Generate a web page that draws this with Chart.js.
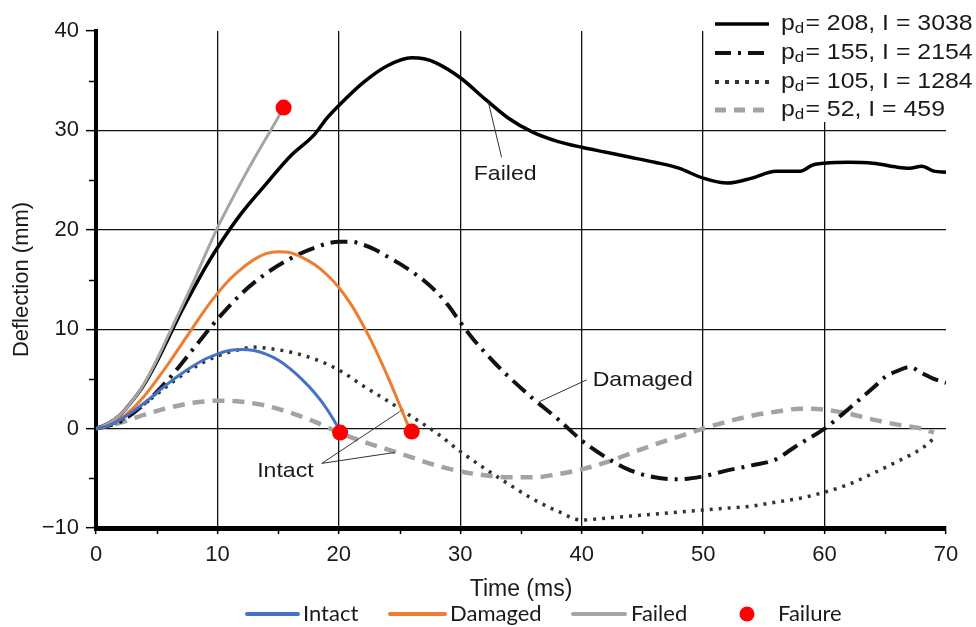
<!DOCTYPE html>
<html><head><meta charset="utf-8">
<script src="https://cdn.jsdelivr.net/npm/chart.js@4.4.0/dist/chart.umd.min.js"></script>
<style>html,body{margin:0;padding:0;background:#fff}#c{display:block}</style>
</head><body>
<canvas id="c" width="976" height="627"></canvas>
<script>
// ---- tick values ----
const timeTicks = [0, 10, 20, 30, 40, 50, 60, 70];
const deflTicks = [-10, 0, 10, 20, 30, 40];

// ---- legend labels ----
const pdValues = ['208', '155', '105', '52'];
const impulseValues = ['3038', '2154', '1284', '459'];
const modelNames = ['Intact', 'Damaged', 'Failed', 'Failure'];

// ---- experimental series (time ms, deflection mm) ----
const t208 = [0,1,2,3,4,5,6,7,8,9,10,12,14,16,18,19,20,22,24,26,27,28,30,32,34,36,38,40,42,44,46,48,50,52,54,56,58,59,60,62,64,66,67,68,69,70];
const v208 = [0,0.5,1.4,2.8,4.5,6.7,9.2,11.7,14.0,16.2,18.2,21.7,24.6,27.4,29.6,31.2,32.5,34.8,36.5,37.3,37.2,36.8,35.3,33.2,31.2,29.8,28.9,28.3,27.8,27.3,26.8,26.2,25.2,24.7,25.2,25.9,25.9,26.5,26.7,26.8,26.7,26.3,26.2,26.4,25.9,25.8];

const t155 = [0,2,4,6,8,10,12,14,16,18,20,21,22,23,24,25,26,27,28,29,30,31,32,33,34,36,38,40,42,44,46,48,50,52,54,56,57,58,60,62,64,65,66,67,68,69,70];
const v155 = [0,0.7,2.5,5.0,8.0,11.0,13.6,15.6,17.1,18.2,18.8,18.8,18.5,18.0,17.3,16.6,15.8,14.9,13.8,12.4,10.7,9.1,7.7,6.4,5.2,3.0,1.0,-1.2,-2.9,-4.2,-4.9,-5.1,-4.8,-4.2,-3.7,-3.1,-2.3,-1.5,0,2.0,4.1,5.2,5.8,6.2,5.6,5.0,4.6];

const t105 = [0,2,4,6,8,10,12,13,14,16,18,20,22,24,26,28,30,32,34,36,38,40,42,44,46,48,50,52,54,56,58,60,62,64,66,68,69];
const v105 = [0,0.8,2.5,4.4,6.1,7.3,8.0,8.2,8.1,7.7,7.0,5.9,4.3,2.8,1.2,-0.4,-2.3,-4.0,-5.6,-7.1,-8.3,-9.2,-9.0,-8.8,-8.6,-8.4,-8.2,-8.0,-7.8,-7.4,-7.0,-6.4,-5.6,-4.5,-3.3,-2.0,-1.0];

const t52 = [0,2,4,6,8,10,12,14,16,18,20,22,24,26,28,30,32,34,36,38,40,42,44,46,48,50,52,54,56,58,60,62,64,66,68,69];
const v52 = [0,0.6,1.4,2.1,2.6,2.8,2.7,2.3,1.6,0.7,-0.4,-1.3,-2.1,-2.9,-3.7,-4.3,-4.7,-4.9,-4.9,-4.6,-4.1,-3.4,-2.5,-1.6,-0.8,0,0.7,1.3,1.7,2.0,1.9,1.5,0.9,0.4,0,-0.4];

// ---- model series ----
const tIntact = [0,1,2,3,4,5,6,7,8,9,10,11,12,13,14,15,16,17,18,19,20];
const vIntact = [0,0.3,0.9,1.7,2.6,3.6,4.6,5.5,6.3,7.0,7.5,7.85,7.95,7.85,7.5,6.9,6.0,4.9,3.6,2.0,0];

const tDamaged = [0,1,2,3,4,5,6,7,8,9,10,11,12,13,14,15,16,17,18,19,20,21,22,23,24,25,25.8];
const vDamaged = [0,0.3,1.0,2.0,3.3,4.9,6.6,8.4,10.2,12.0,13.6,15.0,16.1,17.0,17.6,17.8,17.7,17.2,16.5,15.5,14.2,12.5,10.4,8.0,5.3,2.4,0];

const tFailed = [0,1,2,3,4,5,6,7,8,9,10,11,12,13,14,15,15.4];
const vFailed = [0,0.5,1.4,2.8,4.6,6.9,9.5,12.1,14.7,17.5,20.2,22.6,24.9,27.1,29.2,31.3,32.2];

const tFailure = [15.45, 20.1, 26.0];
const vFailure = [32.3, -0.4, -0.3];

// ---- annotations ----
const noteLabels = ['Failed', 'Damaged', 'Intact'];

const pts = (ts, vs) => ts.map((t, i) => ({x: t, y: vs[i]}));

const FONT = '"Liberation Sans", Arial, Helvetica, sans-serif';

function lineDs(label, ts, vs, color, width, dash) {
  return {
    label, data: pts(ts, vs), borderColor: color, backgroundColor: color,
    borderWidth: width, borderDash: dash || [], pointRadius: 0, pointHoverRadius: 0,
    fill: false, cubicInterpolationMode: 'monotone', borderCapStyle: 'butt'
  };
}

const datasets = [
  {label: 'Failure', data: pts(tFailure, vFailure), showLine: false, pointRadius: 8,
   pointHoverRadius: 8, pointBackgroundColor: '#ff0000', pointBorderWidth: 0, borderColor: '#ff0000', backgroundColor: '#ff0000'},
  lineDs('Intact', tIntact, vIntact, '#4472c4', 3),
  lineDs('Damaged', tDamaged, vDamaged, '#ed7d31', 3),
  lineDs('Failed', tFailed, vFailed, '#a5a5a5', 3),
  lineDs('pd=208', t208, v208, '#000000', 3.5),
  lineDs('pd=155', t155, v155, '#111111', 4, [17, 7, 3, 7]),
  lineDs('pd=105', t105, v105, '#333333', 3.5, [3, 6]),
  lineDs('pd=52', t52, v52, '#a3a3a3', 4.5, [12, 8]),
];

const deco = {
  id: 'deco',
  beforeDraw(chart) {
    const c = chart.ctx; c.save(); c.fillStyle = '#fff'; c.fillRect(0, 0, chart.width, chart.height); c.restore();
  },
  afterDatasetsDraw(chart) {
    const c = chart.ctx, xs = chart.scales.x, ys = chart.scales.y;
    const X = v => xs.getPixelForValue(v), Y = v => ys.getPixelForValue(v);
    c.save();
    c.strokeStyle = '#333'; c.lineWidth = 1;
    const seg = (a, b, d, e) => { c.beginPath(); c.moveTo(X(a), Y(b)); c.lineTo(X(d), Y(e)); c.stroke(); };
    seg(32.3, 32.9, 33.4, 27.3);
    seg(40.4, 4.9, 36.5, 2.7);
    seg(18.6, -3.5, 25.0, 1.7);
    seg(18.6, -3.5, 24.6, -2.4);
    c.fillStyle = '#1a1a1a';
    c.textBaseline = 'middle';
    const txt = (s, x, y, align) => {
      c.save(); c.font = '21px ' + FONT;
      const w = c.measureText(s).width * 1.1;
      const x0 = align === 'center' ? x - w / 2 : x;
      c.translate(x0, y); c.scale(1.1, 1); c.textAlign = 'left'; c.fillText(s, 0, 0); c.restore();
    };
    txt(noteLabels[0], X(33.7), Y(25.6), 'center');
    txt(noteLabels[1], X(40.9), Y(4.9), 'left');
    txt(noteLabels[2], X(15.6), Y(-4.3), 'center');
    c.restore();
  },
  afterDraw(chart) {
    const c = chart.ctx, xs = chart.scales.x, ys = chart.scales.y, ca = chart.chartArea;
    c.save();
    c.strokeStyle = '#000'; c.lineWidth = 1.5;
    for (let v = -5; v < 40; v += 10) {
      const y = Math.round(ys.getPixelForValue(v)) + 0.5;
      c.beginPath(); c.moveTo(ca.left - 7, y); c.lineTo(ca.left - 2, y); c.stroke();
    }
    for (let v = 5; v < 70; v += 10) {
      const x = Math.round(xs.getPixelForValue(v)) + 0.5;
      c.beginPath(); c.moveTo(x, ca.bottom + 2); c.lineTo(x, ca.bottom + 6); c.stroke();
    }
    // top-right legend
    c.fillStyle = '#fff';
    c.fillRect(708, 0, chart.width - 708, 122);
    const rows = [24, 53, 82, 110];
    const styles = [
      {color: '#000', w: 3.5, dash: []},
      {color: '#111', w: 4, dash: [16, 7, 3, 7]},
      {color: '#333', w: 4, dash: [4, 6]},
      {color: '#a3a3a3', w: 5, dash: [11, 8]},
    ];
    rows.forEach((ry, i) => {
      const s = styles[i];
      c.save();
      c.strokeStyle = s.color; c.lineWidth = s.w; c.setLineDash(s.dash);
      c.beginPath(); c.moveTo(715, ry); c.lineTo(769, ry); c.stroke();
      c.restore();
      c.save();
      c.translate(781, ry);
      c.scale(1.13, 1);
      c.fillStyle = '#1a1a1a';
      c.textBaseline = 'middle'; c.textAlign = 'left';
      c.font = '22px ' + FONT;
      let x = 0;
      c.fillText('p', x, 0); x += c.measureText('p').width;
      c.font = '15px ' + FONT;
      c.fillText('d', x, 5); x += c.measureText('d').width + 1;
      c.font = '22px ' + FONT;
      c.fillText('= ' + pdValues[i] + ', I = ' + impulseValues[i], x, 0);
      c.restore();
    });
    // bottom legend
    const by = 614;
    const items = [
      {x0: 247, x1: 298, tx: 303, color: '#4472c4'},
      {x0: 390, x1: 445, tx: 450, color: '#ed7d31'},
      {x0: 573, x1: 625, tx: 631, color: '#a5a5a5'},
      {dot: 747, tx: 778, color: '#ff0000'},
    ];
    items.forEach((it, i) => {
      c.save();
      if (it.dot) {
        c.fillStyle = it.color; c.beginPath(); c.arc(it.dot, by, 7.5, 0, Math.PI * 2); c.fill();
      } else {
        c.strokeStyle = it.color; c.lineWidth = 4; c.lineCap = 'round';
        c.beginPath(); c.moveTo(it.x0, by); c.lineTo(it.x1, by); c.stroke();
      }
      c.fillStyle = '#1a1a1a'; c.font = '22px Lato, "Open Sans", sans-serif';
      c.textBaseline = 'middle'; c.textAlign = 'left';
      c.fillText(modelNames[i], it.tx, by);
      c.restore();
    });
    c.restore();
  }
};

new Chart(document.getElementById('c'), {
  type: 'line',
  data: {datasets},
  options: {
    responsive: false, animation: false, devicePixelRatio: 1,
    layout: {padding: {left: 0, right: 30, top: 31, bottom: 0}},
    plugins: {legend: {display: false}, tooltip: {enabled: false}},
    scales: {
      x: {
        type: 'linear', min: 0, max: 70,
        afterFit: s => { s.height = 99; },
        afterBuildTicks: s => { s.ticks = timeTicks.map(v => ({value: v})); },
        ticks: {font: {size: 22, family: FONT}, color: '#1a1a1a', padding: 8},
        grid: {
          color: ctx => (ctx.tick && (ctx.tick.value === 0 || ctx.tick.value === 70)) ? 'rgba(0,0,0,0)' : '#111',
          lineWidth: 1.3, tickLength: 6, tickColor: '#000', tickWidth: 1.5
        },
        border: {display: true, color: '#000', width: 5},
        title: {display: true, text: 'Time (ms)', font: {size: 23, family: FONT}, color: '#1a1a1a', padding: {top: 0, bottom: 24}}
      },
      y: {
        type: 'linear', min: -10, max: 40,
        afterFit: s => { s.width = 96; },
        afterBuildTicks: s => { s.ticks = deflTicks.map(v => ({value: v})); },
        ticks: {font: {size: 22, family: FONT}, color: '#1a1a1a', padding: 7,
          callback: v => String(v).replace('-', '\u2212')},
        grid: {
          color: ctx => (ctx.tick && (ctx.tick.value === 40 || ctx.tick.value === -10)) ? 'rgba(0,0,0,0)' : '#111',
          lineWidth: 1.3, tickLength: 10, tickColor: '#000', tickWidth: 1.5
        },
        border: {display: true, color: '#000', width: 4},
        title: {display: true, text: 'Deflection (mm)', font: {size: 22, family: FONT}, color: '#1a1a1a', padding: {top: 9, bottom: 0}}
      }
    }
  },
  plugins: [deco]
});
</script>
</body></html>
